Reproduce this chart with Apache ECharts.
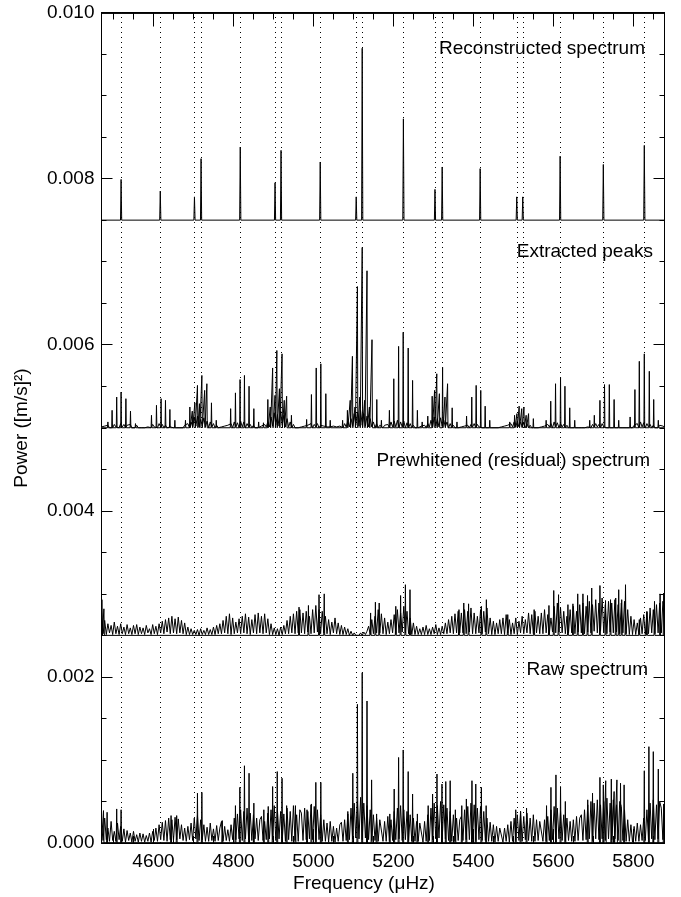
<!DOCTYPE html>
<html>
<head>
<meta charset="utf-8">
<script src="https://cdn.jsdelivr.net/npm/echarts@6/dist/echarts.min.js"></script>
<style>
  html, body { margin: 0; padding: 0; background: #fff; }
  #main { width: 681px; height: 897px; }
</style>
</head>
<body>
<div id="main"></div>
<script>
// powers are in units of 1e-5 (m/s)^2, measured above each panel's baseline
const U = 1e-5;

// mode frequencies (dotted lines), muHz
const modeFreqs = [4519, 4617, 4702.5, 4719, 4817, 4904, 4919, 5017, 5107, 5122,
  5225, 5304, 5322, 5417, 5508.5, 5523.5, 5617, 5725, 5827.5];

const xTicks = [4600, 4800, 5000, 5200, 5400, 5600, 5800];
const xMinorTicks = [4500, 4550, 4600, 4650, 4700, 4750, 4800, 4850, 4900, 4950, 5000, 5050,
  5100, 5150, 5200, 5250, 5300, 5350, 5400, 5450, 5500, 5550, 5600, 5650, 5700, 5750, 5800, 5850];

// panel baselines
const panelBase = { recon: 0.0075, extracted: 0.005, resid: 0.0025, raw: 0 };

// reconstructed spectrum: [freq, height]
const reconPeaks = [[4519, 49], [4617, 35], [4702.5, 28], [4719, 74], [4817, 88], [4904, 45],
  [4919, 84], [5017, 70], [5107, 28], [5122, 207], [5225, 122], [5304, 37], [5322, 64],
  [5417, 62], [5508.5, 28], [5523.5, 28], [5617, 77], [5725, 67], [5827.5, 90]];

// extracted peaks: [freq, height]
const extractedPeaks = [
  [4486, 7], [4496.5, 21], [4508, 37], [4519, 43], [4531, 35], [4542.5, 20], [4555, 5],
  [4595, 15], [4607.5, 27], [4619, 35], [4630, 33], [4641, 22], [4653.5, 9],
  [4680, 9], [4691, 25], [4697, 20], [4703.5, 30], [4710, 51], [4715, 29], [4721, 63], [4728, 45], [4733.5, 53], [4745, 30], [4757, 9],
  [4793, 23], [4805, 42], [4816.5, 58], [4827.5, 63], [4839, 50], [4851, 23], [4863, 7],
  [4875, 6], [4886, 34], [4892, 25], [4898, 72], [4904, 39], [4908.5, 93], [4915, 47], [4921.5, 89], [4927, 33], [4933, 38], [4945, 15],
  [4983, 10], [4995, 40], [5007, 72], [5018.5, 77], [5031, 41], [5042, 9],
  [5073, 9], [5085, 21], [5092, 33], [5097.5, 86], [5104, 25], [5110, 170], [5116, 37], [5122, 217], [5128, 33], [5134, 189], [5140, 25], [5146.5, 106], [5158.5, 34], [5170, 9],
  [5190, 21], [5201, 59], [5213, 98], [5224.5, 115], [5237, 96], [5248, 57], [5260, 21], [5272, 7],
  [5286, 14], [5297, 38], [5303, 45], [5308.5, 65], [5315, 41], [5323, 73], [5329, 37], [5335.5, 53], [5347, 24], [5359, 7],
  [5383, 14], [5396, 37], [5407, 51], [5418.5, 45], [5429.5, 26], [5441, 9],
  [5491, 7], [5503, 15], [5509, 17], [5514.5, 26], [5521, 23], [5526.5, 25], [5532, 15], [5538, 17], [5550, 11],
  [5582, 9], [5593.5, 32], [5605.5, 53], [5618, 61], [5629, 50], [5641, 24], [5653.5, 9],
  [5691, 9], [5702.5, 15], [5716.5, 33], [5728, 52], [5740, 52], [5752, 34], [5763.5, 9],
  [5792, 13], [5804, 46], [5815, 80], [5827.5, 89], [5840, 68], [5851, 34], [5862.5, 9]
];

// noise floors sampled every 4 muHz from 4470 to 5878
const noiseStart = 4470;
const noiseStep = 4;

const extractedNoise = [
  1, 0, 2, 0, 3, 0, 2, 0, 4, 1, 3, 0, 5, 1, 4, 0, 3, 1, 4, 0, 2, 0, 3, 0, 1,
  0, 1, 0, 2, 1, 3, 0, 4, 1, 3, 0, 5, 1, 4, 0, 3, 0, 2, 1, 3, 0, 1, 0, 2, 0,
  2, 0, 3, 1, 5, 0, 7, 1, 12, 2, 14, 1, 10, 2, 12, 1, 8, 0, 7, 1, 5, 0, 3, 0, 2,
  1, 0, 2, 0, 3, 1, 5, 0, 7, 1, 6, 0, 8, 1, 7, 0, 5, 1, 4, 0, 3, 0, 2, 0, 1,
  2, 0, 4, 1, 7, 1, 13, 2, 18, 3, 16, 2, 20, 3, 15, 1, 11, 1, 7, 0, 4, 0, 2, 0, 1,
  1, 0, 2, 0, 3, 1, 5, 0, 4, 1, 5, 0, 3, 1, 2, 0, 1, 0, 1, 0, 2, 0, 1, 0, 2,
  2, 0, 5, 1, 8, 1, 11, 2, 17, 3, 19, 2, 21, 3, 17, 2, 14, 1, 11, 1, 7, 0, 5, 0, 3,
  2, 0, 3, 1, 4, 0, 7, 1, 8, 1, 9, 0, 7, 1, 8, 0, 6, 0, 5, 0, 3, 0, 2, 0, 1,
  2, 0, 3, 0, 5, 1, 9, 1, 13, 2, 11, 1, 12, 2, 9, 1, 7, 0, 5, 0, 3, 0, 2, 0, 1,
  1, 0, 2, 0, 3, 0, 4, 1, 5, 0, 4, 1, 3, 0, 2, 0, 2, 0, 1, 0, 1, 0, 2, 0, 1,
  1, 0, 2, 0, 3, 1, 5, 1, 7, 1, 8, 1, 7, 1, 6, 0, 5, 0, 3, 0, 2, 0, 1, 0, 2,
  1, 0, 2, 0, 4, 1, 5, 0, 7, 1, 6, 0, 5, 1, 4, 0, 3, 0, 2, 0, 1, 0, 1, 0, 1,
  0, 1, 0, 2, 1, 3, 0, 4, 1, 5, 1, 4, 0, 5, 1, 3, 0, 2, 0, 1, 0, 1, 0, 1, 0,
  1, 0, 2, 0, 1, 0, 2, 0, 3, 1, 5, 0, 7, 1, 6, 0, 5, 1, 4, 0, 3, 0, 2, 0, 3,
  1, 2, 1
];

const residNoise = [
  30, 2, 18, 1, 14, 3, 12, 1, 16, 2, 11, 1, 14, 2, 10, 1, 13, 2, 9, 1, 12, 2, 13, 1, 10,
  2, 9, 1, 12, 3, 8, 1, 13, 2, 11, 1, 14, 3, 17, 2, 19, 4, 21, 2, 23, 3, 20, 2, 22, 3,
  18, 2, 15, 1, 10, 1, 8, 1, 6, 1, 7, 0, 8, 1, 6, 1, 9, 1, 7, 1, 10, 1, 12, 2, 14,
  2, 18, 3, 23, 2, 26, 1, 21, 2, 16, 3, 20, 2, 23, 3, 26, 2, 22, 1, 19, 3, 25, 2, 27, 3,
  23, 2, 26, 3, 20, 1, 14, 1, 9, 1, 8, 0, 10, 1, 12, 2, 18, 2, 23, 3, 26, 2, 29, 3, 31,
  3, 27, 2, 29, 4, 23, 2, 31, 3, 36, 4, 31, 2, 29, 3, 23, 2, 19, 1, 16, 3, 21, 2, 15, 1,
  12, 1, 10, 1, 8, 0, 5, 0, 3, 0, 2, 0, 3, 0, 4, 1, 5, 11, 1, 19, 2, 23, 3, 31, 3,
  26, 2, 21, 1, 16, 2, 19, 3, 25, 2, 31, 3, 27, 4, 35, 3, 29, 2, 21, 1, 15, 1, 11, 1, 8,
  1, 10, 1, 12, 1, 8, 1, 10, 2, 13, 1, 9, 1, 11, 2, 15, 2, 19, 3, 23, 2, 26, 3, 29, 3,
  27, 3, 31, 2, 29, 4, 33, 2, 27, 2, 23, 3, 31, 2, 29, 4, 33, 2, 21, 1, 17, 1, 15, 2, 19,
  2, 21, 1, 25, 3, 19, 1, 15, 2, 21, 1, 17, 3, 23, 2, 19, 3, 27, 2, 25, 2, 29, 3, 23, 2,
  27, 2, 31, 3, 25, 2, 21, 4, 35, 3, 39, 4, 33, 3, 29, 2, 23, 3, 31, 3, 35, 2, 29, 4, 37,
  3, 39, 2, 35, 4, 41, 3, 37, 5, 43, 3, 39, 5, 45, 3, 37, 2, 41, 4, 39, 3, 43, 4, 37, 2,
  39, 3, 41, 2, 31, 1, 23, 1, 19, 1, 15, 1, 21, 2, 25, 1, 29, 2, 33, 3, 31, 2, 37, 3, 39,
  3, 41, 31
];

const residPeaks = [
  [4471, 43], [4476, 32],
  [4964, 34], [4987.5, 36], [5014, 49], [5027, 50],
  [5143, 27], [5155, 40], [5164.5, 39],
  [5206, 35], [5218, 48], [5230, 61], [5241.5, 55],
  [5364, 31], [5376, 39], [5388, 38], [5420, 35], [5432.5, 43],
  [5486, 25], [5552, 31],
  [5589, 36], [5601, 54], [5613, 49],
  [5636.5, 37], [5649, 38], [5661, 50], [5674, 50], [5685.5, 48], [5696, 57], [5716.5, 60],
  [5730.5, 42], [5743, 43], [5756, 45], [5763.5, 55], [5771, 43], [5780.5, 61],
  [5815, 19], [5834, 28], [5853, 41], [5867, 50], [5876, 51]
];

const rawNoise = [
  22, 3, 30, 4, 18, 2, 26, 3, 14, 2, 24, 4, 20, 2, 17, 1, 15, 3, 12, 1, 14, 2, 10, 1, 12,
  2, 11, 1, 9, 2, 12, 1, 14, 3, 18, 2, 22, 4, 25, 3, 27, 2, 30, 4, 28, 3, 31, 4, 29, 5,
  22, 3, 18, 2, 20, 4, 24, 3, 30, 5, 33, 3, 28, 4, 22, 2, 19, 2, 24, 3, 17, 2, 21, 3, 18,
  26, 2, 20, 3, 16, 2, 22, 4, 30, 4, 35, 5, 40, 3, 38, 5, 42, 4, 36, 3, 34, 5, 30, 3, 28,
  32, 3, 26, 4, 36, 5, 40, 4, 45, 3, 40, 5, 38, 3, 35, 2, 42, 4, 38, 2, 45, 3, 34, 2, 40,
  36, 3, 42, 4, 38, 5, 46, 4, 44, 3, 40, 4, 34, 2, 28, 2, 24, 1, 26, 2, 20, 1, 18, 2, 22,
  25, 2, 28, 3, 35, 4, 42, 5, 48, 6, 50, 5, 55, 4, 48, 6, 45, 4, 40, 3, 34, 3, 30, 2, 28,
  30, 2, 26, 2, 32, 3, 28, 3, 38, 4, 42, 5, 45, 3, 40, 4, 38, 3, 34, 2, 30, 2, 26, 2, 24,
  22, 1, 26, 2, 34, 3, 42, 4, 48, 5, 45, 6, 50, 4, 46, 5, 42, 3, 38, 2, 34, 2, 30, 3, 28,
  32, 3, 40, 4, 44, 4, 48, 5, 46, 3, 42, 4, 44, 3, 38, 3, 30, 2, 25, 2, 22, 1, 20, 2, 18,
  20, 1, 18, 2, 22, 1, 26, 2, 30, 3, 34, 3, 38, 2, 32, 4, 36, 3, 30, 2, 34, 2, 28, 3, 26,
  24, 2, 28, 2, 32, 3, 40, 4, 44, 3, 42, 5, 38, 3, 34, 2, 30, 3, 26, 2, 28, 2, 32, 3, 30,
  34, 3, 40, 4, 46, 5, 50, 3, 48, 5, 52, 4, 46, 5, 50, 3, 54, 5, 48, 4, 52, 5, 46, 3, 50,
  44, 3, 40, 2, 28, 2, 22, 1, 20, 2, 24, 2, 22, 3, 30, 3, 40, 4, 48, 5, 52, 4, 46, 5, 50,
  42, 4, 46
];

const rawPeaks = [
  [4475, 39], [4484, 37], [4508, 41], [4519, 40],
  [4644, 33], [4658, 33],
  [4710, 60], [4721, 61],
  [4772, 27],
  [4805, 45], [4816, 67], [4827.5, 93], [4839, 84], [4851, 48],
  [4876, 40], [4887, 44], [4898, 68], [4909.5, 86], [4921.5, 78], [4933, 45],
  [4955, 45], [4984, 40], [4995, 47], [5006, 73], [5018.5, 73],
  [5086, 38], [5098.5, 84], [5110, 167], [5122, 205], [5134, 171], [5145.5, 76], [5158, 35],
  [5191, 35], [5202, 65], [5213, 103], [5224.5, 112], [5237, 86], [5248, 59], [5260, 35],
  [5287, 45], [5298, 59], [5309, 83], [5321.5, 71], [5331, 74], [5342, 75], [5355, 40],
  [5371, 45], [5382.5, 53], [5396.5, 75], [5406, 71], [5420, 67], [5432, 45],
  [5506, 40], [5518, 38], [5533, 42],
  [5583, 45], [5594, 67], [5606.5, 82], [5618, 68], [5630, 50],
  [5686, 52], [5698, 60], [5716.5, 79], [5725, 70], [5731, 75], [5745, 77], [5752, 62], [5759, 76], [5768, 72], [5777, 70],
  [5827.5, 87], [5839, 116], [5850, 110], [5862.5, 89], [5876, 47]
];

const panelLabels = ['Reconstructed spectrum', 'Extracted peaks', 'Prewhitened (residual) spectrum', 'Raw spectrum'];

// ---------------------------------------------------------------
const X_MIN = 4470, X_MAX = 5878;
const FONT = '"Liberation Sans", Arial, Helvetica, sans-serif';

function noiseLine(vals, base) {
  return vals.map((v, i) => [noiseStart + i * noiseStep, base + v * U]);
}

// each peak drawn as a thin spike back to the baseline
function spikeLine(list, base, halfWidth) {
  const out = [[X_MIN, base]];
  list.slice().sort((a, b) => a[0] - b[0]).forEach(([f, h]) => {
    out.push([f - halfWidth, base], [f, base + h * U], [f + halfWidth, base]);
  });
  out.push([X_MAX, base]);
  return out;
}

function lineSeries(data, extra) {
  return Object.assign({
    type: 'line', xAxisIndex: 0, yAxisIndex: 0, data: data,
    symbol: 'none', silent: true, animation: false,
    lineStyle: { color: '#000', width: 1 }
  }, extra || {});
}

const chart = echarts.init(document.getElementById('main'));

const W = 681, H = 897;
const gridRect = { left: 101.5, right: 16.5, top: 12.5, bottom: 54, outerBoundsMode: 'none' };
const plotW = W - gridRect.left - gridRect.right;
const plotH = H - gridRect.top - gridRect.bottom;

const tickLabelStyle = { fontFamily: FONT, fontSize: 19, color: '#000' };
const tickLine = { color: '#000', width: 1 };
const noTick = { show: false };

// frame axes (lines + labels)
const frameX = (pos, showLabel) => ({
  gridIndex: 0, type: 'value', position: pos, min: X_MIN, max: X_MAX,
  axisLine: { show: true, onZero: false, lineStyle: { color: '#000', width: 1 } },
  axisTick: noTick,
  axisLabel: Object.assign({ show: showLabel, margin: 9, customValues: xTicks, formatter: (v) => String(v) }, tickLabelStyle),
  splitLine: { show: false }
});
const frameY = (pos, showLabel) => ({
  gridIndex: 0, type: 'value', position: pos, min: 0, max: 0.01, interval: 0.002,
  axisLine: { show: true, onZero: false, lineStyle: { color: '#000', width: 1 } },
  axisTick: noTick, minorTick: noTick,
  axisLabel: Object.assign({ show: showLabel, margin: 7, formatter: (v) => v.toFixed(3) }, tickLabelStyle),
  splitLine: { show: false }
});
// tick-only axes placed on the opposite edge, so their outward ticks point into the plot
const tickX = (grid, pos, values, len) => ({
  gridIndex: grid, type: 'value', position: pos, offset: -plotH, min: X_MIN, max: X_MAX,
  axisLine: { show: false, onZero: false },
  axisTick: { show: true, inside: false, length: len, customValues: values, lineStyle: tickLine },
  axisLabel: { show: false }, splitLine: { show: false }
});
const tickY = (pos) => ({
  gridIndex: 1, type: 'value', position: pos, offset: -plotW, min: 0, max: 0.01, interval: 0.002,
  axisLine: { show: false, onZero: false },
  axisTick: { show: true, inside: false, length: 11, lineStyle: tickLine },
  minorTick: { show: true, splitNumber: 4, length: 5, lineStyle: tickLine },
  axisLabel: { show: false }, splitLine: { show: false }, minorSplitLine: { show: false }
});

const option = {
  backgroundColor: '#fff',
  animation: false,
  grid: [Object.assign({}, gridRect), Object.assign({}, gridRect), Object.assign({}, gridRect)],
  xAxis: [
    frameX('bottom', true), frameX('top', false),
    tickX(1, 'top', xTicks, 14), tickX(1, 'bottom', xTicks, 14),
    tickX(2, 'top', xMinorTicks, 7), tickX(2, 'bottom', xMinorTicks, 7)
  ],
  yAxis: [
    frameY('left', true), frameY('right', false),
    tickY('right'), tickY('left'),
    { gridIndex: 2, type: 'value', min: 0, max: 0.01, show: false }
  ],
  graphic: [
    { type: 'text', x: 645, y: 49, style: { text: panelLabels[0], font: '19px ' + FONT, fill: '#000', align: 'right', verticalAlign: 'middle' } },
    { type: 'text', x: 653, y: 252, style: { text: panelLabels[1], font: '19px ' + FONT, fill: '#000', align: 'right', verticalAlign: 'middle' } },
    { type: 'text', x: 650, y: 461, style: { text: panelLabels[2], font: '19px ' + FONT, fill: '#000', align: 'right', verticalAlign: 'middle' } },
    { type: 'text', x: 648, y: 670, style: { text: panelLabels[3], font: '19px ' + FONT, fill: '#000', align: 'right', verticalAlign: 'middle' } },
    { type: 'text', x: 364, y: 884, style: { text: 'Frequency (\u03bcHz)', font: '19px ' + FONT, fill: '#000', align: 'center', verticalAlign: 'middle' } },
    { type: 'text', x: 22, y: 428, rotation: Math.PI / 2, style: { text: 'Power ([m/s]\u00b2)', font: '19px ' + FONT, fill: '#000', align: 'center', verticalAlign: 'middle' } }
  ],
  series: [
    lineSeries([], {
      markLine: {
        silent: true, symbol: 'none', label: { show: false }, animation: false,
        data: modeFreqs.map((f) => ({ xAxis: f, lineStyle: { type: [1, 4], color: '#000', width: 1 } }))
          .concat([panelBase.resid, panelBase.extracted, panelBase.recon].map((y) => ({
            yAxis: y, lineStyle: { type: 'solid', color: '#000', width: 1.5 }
          })))
      }
    }),
    lineSeries(spikeLine(reconPeaks, panelBase.recon, 1.5)),
    lineSeries(noiseLine(extractedNoise, panelBase.extracted)),
    lineSeries(spikeLine(extractedPeaks, panelBase.extracted, 1)),
    lineSeries(noiseLine(residNoise, panelBase.resid)),
    lineSeries(spikeLine(residPeaks, panelBase.resid, 1.2)),
    lineSeries(noiseLine(rawNoise, panelBase.raw)),
    lineSeries(spikeLine(rawPeaks, panelBase.raw, 1.2))
  ]
};

chart.setOption(option);
</script>
</body>
</html>
